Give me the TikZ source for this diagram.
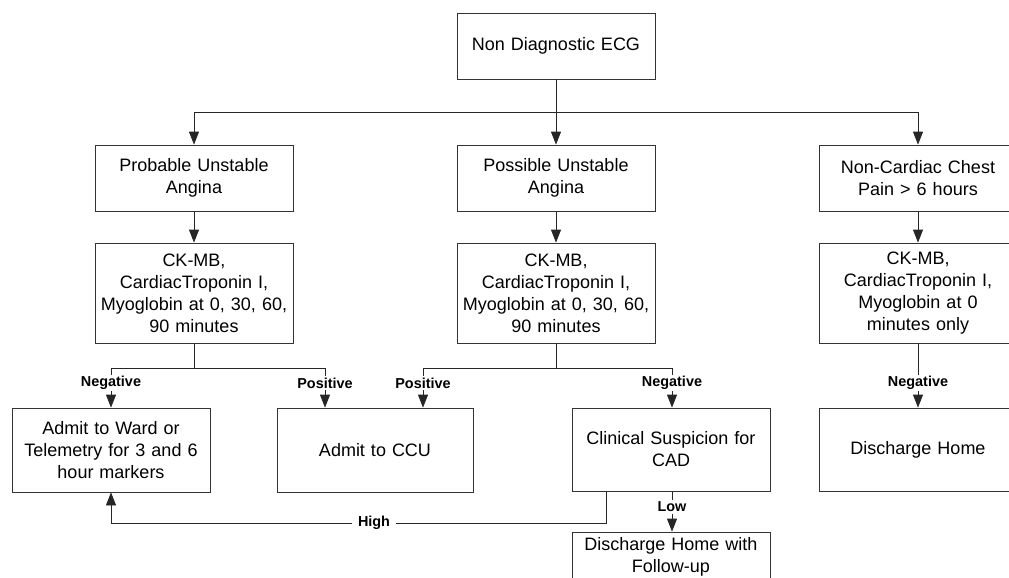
\documentclass[tikz,border=0pt]{standalone}
\usepackage{fontspec}
\setmainfont{Liberation Sans}
\usetikzlibrary{arrows.meta,calc}
\begin{document}
\begin{tikzpicture}[x=1pt,y=1pt,
  box/.style={draw=black!80,line width=0.8pt,fill=white,minimum width=198pt,text width=190pt,align=center,inner sep=0pt,
    font=\fontsize{18}{22}\selectfont},
  conn/.style={draw=black!85,line width=0.8pt},
  arr/.style={conn,-{Triangle[length=13pt,width=10pt]}},
  lbl/.style={fill=white,inner sep=1.5pt,font=\fontsize{14.4}{16}\selectfont\bfseries}]
\clip (0,0) rectangle (1009,-578);
\fill[white] (0,0) rectangle (1009,-578);
% boxes
\node[box,minimum height=66pt] (ecg) at (556,-46) {Non Diagnostic ECG};
\node[box,minimum height=66pt] (prob) at (194,-178) {Probable Unstable\\Angina};
\node[box,minimum height=66pt] (poss) at (556,-178) {Possible Unstable\\Angina};
\node[box,minimum height=66pt] (nonc) at (918,-178) {Non-Cardiac Chest\\Pain > 6 hours};
\node[box,minimum height=100pt] (ck1) at (194,-293) {CK-MB,\\CardiacTroponin I,\\Myoglobin at 0, 30, 60,\\90 minutes};
\node[box,minimum height=100pt] (ck2) at (556,-293) {CK-MB,\\CardiacTroponin I,\\Myoglobin at 0, 30, 60,\\90 minutes};
\node[box,minimum height=100pt] (ck3) at (918,-293) {CK-MB,\\CardiacTroponin I,\\Myoglobin at 0\\minutes only};
\node[box,minimum height=84pt] (ward) at (111,-450) {Admit to Ward or\\Telemetry for 3 and 6\\hour markers};
\node[box,minimum height=84pt,minimum width=196pt] (ccu) at (375,-450) {Admit to CCU};
\node[box,minimum height=83pt] (clin) at (671,-449.5) {Clinical Suspicion for\\CAD};
\node[box,minimum height=50pt] (dhf) at (671,-557) {Discharge Home with\\Follow-up};
\node[box,minimum height=83pt] (dh) at (918,-449.5) {Discharge Home};
% top fan-out
\coordinate (j0) at (556,-112);
\draw[arr] (ecg.south) -- (poss.north);
\draw[arr] (j0) -| (prob.north);
\draw[arr] (j0) -| (nonc.north);
% second level
\draw[arr] (prob) -- (ck1);
\draw[arr] (poss) -- (ck2);
\draw[arr] (nonc) -- (ck3);
% left split
\draw[conn] (ck1.south) -- ++(0,-25) coordinate (s1);
\draw[arr] (s1) -| (ward.north);
\draw[arr] (s1) -| ([xshift=-50pt]ccu.north);
% middle split
\draw[conn] (ck2.south) -- ++(0,-25) coordinate (s2);
\draw[arr] (s2) -| ([xshift=48pt]ccu.north);
\draw[arr] (s2) -| ([xshift=1pt]clin.north);
% right
\draw[arr] (ck3) -- (dh);
% clinical suspicion
\draw[arr] ([xshift=1pt]clin.south) -- ([xshift=1pt]dhf.north);
\draw[arr] ([xshift=-65pt]clin.south) -- ++(0,-31.5) -| (ward.south);
% labels
\node[lbl] (l1) at (111,-383) {Negative};
\node[lbl] (l2) at (325,-383) {Positive};
\node[lbl] (l3) at (423,-383) {Positive};
\node[lbl] (l4) at (672,-383) {Negative};
\node[lbl] (l5) at (918,-383) {Negative};
\node[lbl] (l6) at (672,-507) {Low};
\node[lbl,inner xsep=6pt] (l7) at (374,-523) {High};
\end{tikzpicture}
\end{document}
